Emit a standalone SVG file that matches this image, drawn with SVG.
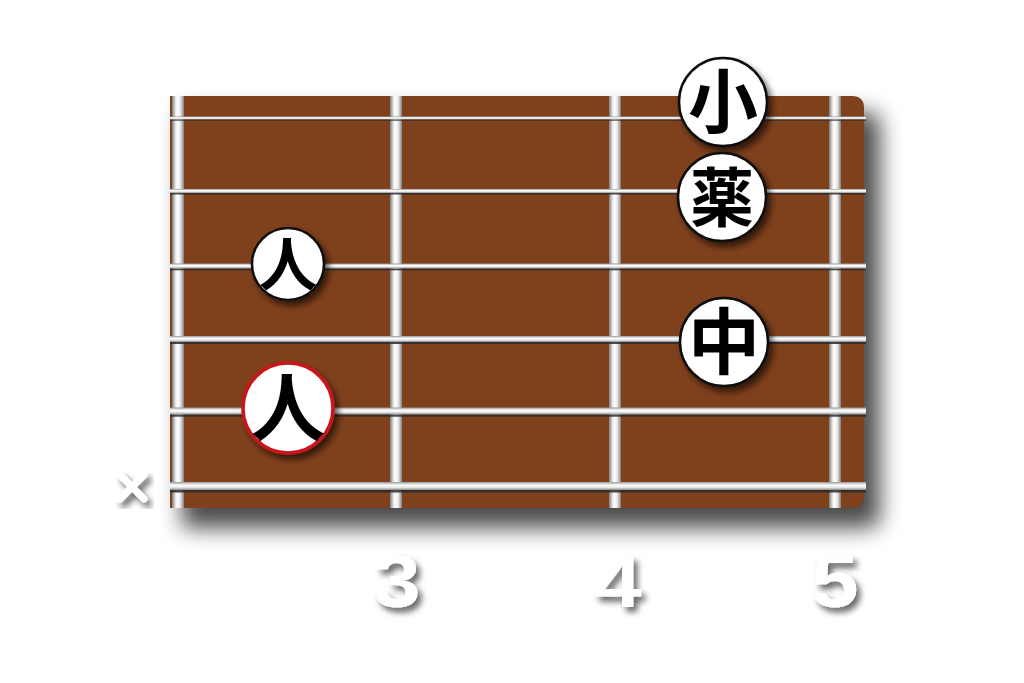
<svg xmlns="http://www.w3.org/2000/svg" width="1024" height="683" viewBox="0 0 1024 683">
<defs>
<style>
.dot{fill:#ffffff;stroke:#111111;stroke-width:2.5}
.dotred{fill:#ffffff;stroke:#c8161d;stroke-width:3.5}
.ch{font-family:"Noto Sans CJK JP","Noto Sans CJK SC",sans-serif;font-weight:bold;fill:#000000;text-anchor:middle}
.num{font-family:"Liberation Sans",Arial,sans-serif;font-weight:bold;font-size:74px;fill:#ffffff;text-anchor:middle}
.fret{fill:url(#fretG)}
.str{fill:url(#strG)}
.strsh{fill:#2a2a2a;opacity:0.85}
</style>
<linearGradient id="fretG" x1="0" y1="0" x2="1" y2="0">
<stop offset="0" stop-color="#7d7d7d"/>
<stop offset="0.3" stop-color="#e8e8e8"/>
<stop offset="0.45" stop-color="#ffffff"/>
<stop offset="0.7" stop-color="#e6e6e6"/>
<stop offset="1" stop-color="#808080"/>
</linearGradient>
<linearGradient id="strG" x1="0" y1="0" x2="0" y2="1">
<stop offset="0" stop-color="#9a9a9a"/>
<stop offset="0.4" stop-color="#ffffff"/>
<stop offset="0.7" stop-color="#e4e4e4"/>
<stop offset="1" stop-color="#8a8a8a"/>
</linearGradient>
<filter id="boardSh" x="-10%" y="-10%" width="125%" height="130%">
<feGaussianBlur stdDeviation="11"/>
</filter>
<filter id="sh" x="-30%" y="-30%" width="170%" height="170%">
<feGaussianBlur in="SourceAlpha" stdDeviation="3"/>
<feOffset dx="4" dy="5" result="b"/>
<feComponentTransfer><feFuncA type="linear" slope="0.6"/></feComponentTransfer>
<feMerge><feMergeNode/><feMergeNode in="SourceGraphic"/></feMerge>
</filter>
</defs>
<rect width="1024" height="683" fill="#ffffff"/>
<g id="board">
<path d="M182,112 H866 Q880,112 880,126 V516 Q880,528 866,528 H182 Z" fill="#000000" opacity="0.7" filter="url(#boardSh)"/>
<path d="M170,96 H852 Q864,96 864,108 V496 Q864,508 852,508 H170 Z" fill="#7f401c"/>
</g>
<g id="connectors">
<g id="frets">
<rect class="fret" x="172" y="96" width="12" height="412"/>
<rect class="fret" x="390" y="96" width="12" height="412"/>
<rect class="fret" x="609" y="96" width="12" height="412"/>
<rect class="fret" x="829" y="96" width="12" height="412"/>
</g>
<g id="strings">
<rect class="strsh" x="170" y="119.5" width="696" height="1.2"/>
<rect class="str" x="170" y="116.5" width="696" height="3"/>
<rect class="strsh" x="170" y="193" width="696" height="1.5"/>
<rect class="str" x="170" y="189" width="696" height="4"/>
<rect class="strsh" x="170" y="268.5" width="696" height="1.8"/>
<rect class="str" x="170" y="263.5" width="696" height="5"/>
<rect class="strsh" x="170" y="342" width="696" height="2"/>
<rect class="str" x="170" y="336" width="696" height="6"/>
<rect class="strsh" x="170" y="414.5" width="696" height="2.2"/>
<rect class="str" x="170" y="407.5" width="696" height="7"/>
<rect class="strsh" x="170" y="490" width="696" height="2.5"/>
<rect class="str" x="170" y="482" width="696" height="8"/>
</g>
</g>
<g id="node-ko" filter="url(#sh)">
<circle class="dot" cx="723" cy="102" r="44"/>
<text class="ch" x="723" y="128" font-size="70">小</text>
</g>
<g id="node-kusuri" filter="url(#sh)">
<circle class="dot" cx="722" cy="197" r="44"/>
<text class="ch" x="722" y="221" font-size="64">薬</text>
</g>
<g id="node-hito1" filter="url(#sh)">
<circle class="dot" cx="288" cy="264" r="36"/>
<text class="ch" x="288" y="286" font-size="58">人</text>
</g>
<g id="node-naka" filter="url(#sh)">
<circle class="dot" cx="724" cy="342" r="44"/>
<text class="ch" x="724" y="368" font-size="72">中</text>
</g>
<g id="node-hito2" filter="url(#sh)">
<circle class="dotred" cx="288" cy="408" r="45"/>
<text class="ch" x="288" y="435" font-size="74">人</text>
</g>
<g id="mute" filter="url(#sh)">
<path d="M120,475 L144,499 M144,475 L120,499" stroke="#ffffff" stroke-width="7" stroke-linecap="round" fill="none"/>
</g>
<g id="fret-numbers" filter="url(#sh)">
<text class="num" x="397" y="607" transform="translate(397 0) scale(1.15 1) translate(-397 0)">3</text>
<text class="num" x="618" y="607" transform="translate(618 0) scale(1.15 1) translate(-618 0)">4</text>
<text class="num" x="835" y="607" transform="translate(835 0) scale(1.15 1) translate(-835 0)">5</text>
</g>
</svg>
